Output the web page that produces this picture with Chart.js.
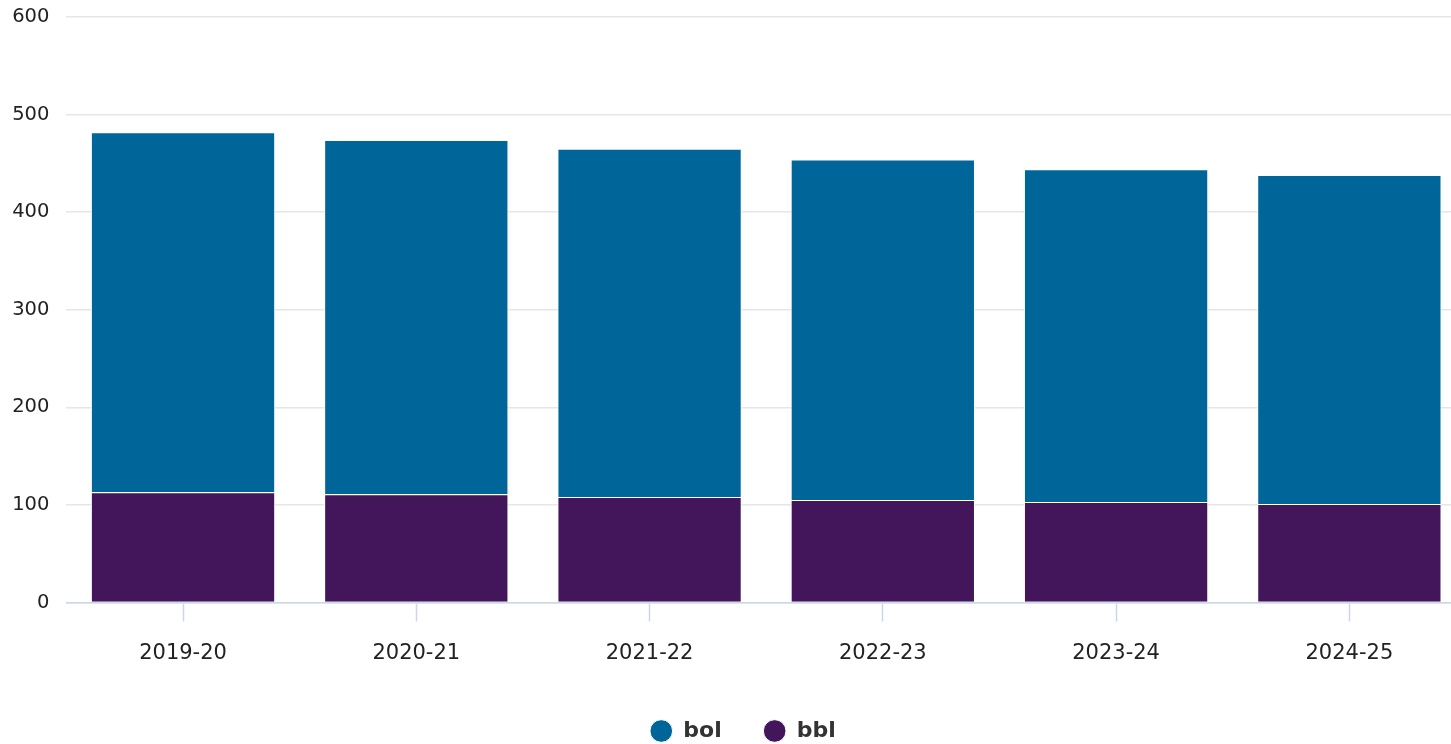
<!DOCTYPE html>
<html>
<head>
<meta charset="utf-8">
<script src="https://cdn.jsdelivr.net/npm/chart.js@4/dist/chart.umd.min.js"></script>
<style>
html,body{margin:0;padding:0;background:#fff;overflow:hidden;}
#wrap{position:relative;width:1466px;height:744px;}
</style>
</head>
<body>
<div id="wrap"><canvas id="c" width="1466" height="744"></canvas></div>
<script>
const categories = ["2019-20", "2020-21", "2021-22", "2022-23", "2023-24", "2024-25"];
const bolValues = [369, 363, 357, 349, 341, 337];
const bblValues = [113, 111, 108, 105, 103, 101];
const yTicks = [0, 100, 200, 300, 400, 500, 600];

const FONT = "'DejaVu Sans', Verdana, sans-serif";

const legendShift = {
  id: 'legendShift',
  afterLayout(chart) {
    if (chart.legend) { chart.legend.left += 10; chart.legend.right += 10; }
  }
};

new Chart(document.getElementById('c'), {
  type: 'bar',
  data: {
    labels: categories,
    datasets: [
      { label: 'bol', data: bolValues, backgroundColor: '#006699', borderColor: '#ffffff', borderWidth: 1, order: 2 },
      { label: 'bbl', data: bblValues, backgroundColor: '#43165c', borderColor: '#ffffff', borderWidth: 1, order: 1 }
    ]
  },
  plugins: [legendShift],
  options: {
    responsive: false,
    animation: false,
    layout: { padding: { top: 17, right: 0, bottom: -8, left: 0 } },
    datasets: { bar: { barPercentage: 0.79, categoryPercentage: 1.0 } },
    scales: {
      x: {
        stacked: true,
        grid: { display: true, drawOnChartArea: false, offset: false, tickLength: 19, tickColor: '#ccd6eb', tickWidth: 1.5 },
        border: { display: true, color: '#ccd6eb', width: 1.5 },
        ticks: { color: '#222', font: { family: FONT, size: 21 }, padding: 19, maxRotation: 0 },
        afterFit: (s) => { s.height = 75.5; }
      },
      y: {
        stacked: true,
        min: 0, max: 600,
        afterBuildTicks: (s) => { s.ticks = yTicks.map(v => ({ value: v })); },
        grid: { color: '#e6e6e6', lineWidth: 1.5, drawTicks: true, tickLength: 17, tickColor: 'rgba(0,0,0,0)' },
        border: { display: false },
        ticks: { color: '#222', font: { family: FONT, size: 19.5 }, padding: 0 },
        afterFit: (s) => { s.width = 66.4; }
      }
    },
    plugins: {
      legend: {
        position: 'bottom',
        labels: {
          usePointStyle: true,
          pointStyle: 'circle',
          boxWidth: 22,
          boxHeight: 16,
          padding: 42,
          color: '#333333',
          font: { family: FONT, size: 22, weight: 'bold' },
          sort: (a, b) => a.datasetIndex - b.datasetIndex
        }
      },
      tooltip: { enabled: false }
    }
  }
});
</script>
</body>
</html>
